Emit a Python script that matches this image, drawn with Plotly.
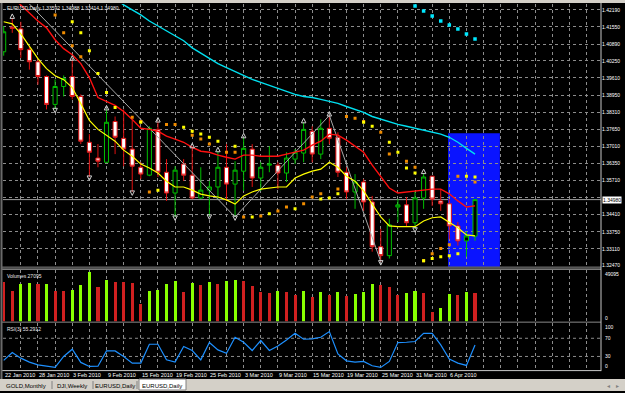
import plotly.graph_objects as go

W, H = 625, 393
def PX(x): return x / W
def PY(y): return 1 - y / H

FONT = "Liberation Sans"

# ---------------- data ----------------
bars = list(range(56))
date_tick_bars = [0, 4, 8, 12, 16, 20, 24, 28, 32, 36, 40, 44, 48, 52]
date_tick_text = ["22 Jan 2010", "28 Jan 2010", "3 Feb 2010", "9 Feb 2010", "15 Feb 2010",
                  "19 Feb 2010", "25 Feb 2010", "3 Mar 2010", "9 Mar 2010", "15 Mar 2010",
                  "19 Mar 2010", "25 Mar 2010", "31 Mar 2010", "6 Apr 2010"]
price_ticks = [1.42190, 1.41550, 1.40890, 1.40250, 1.39610, 1.38950, 1.38310, 1.37650,
               1.37010, 1.36350, 1.35710, 1.35050, 1.34410, 1.33750, 1.33110, 1.32470]
price_tick_text = ["1.42190", "1.41550", "1.40890", "1.40250", "1.39610", "1.38950", "1.38310",
                   "1.37650", "1.37010", "1.36350", "1.35710", "", "1.34410", "1.33750",
                   "1.33110", "1.32470"]
rsi_levels = [100, 70, 30, 0]

open_ = [1.4060, 1.4153, 1.4147, 1.4068, 1.4022, 1.3966, 1.3860, 1.3928, 1.3966, 1.3890,
         1.3716, 1.3656, 1.3640, 1.3795, 1.3731, 1.3690, 1.3621, 1.3591, 1.3765, 1.3602,
         1.3523, 1.3633, 1.3591, 1.3504, 1.3534, 1.3546, 1.3621, 1.3557, 1.3606, 1.3690,
         1.3580, 1.3629, 1.3629, 1.3599, 1.3652, 1.3675, 1.3758, 1.3671, 1.3769, 1.3735,
         1.3602, 1.3527, 1.3565, 1.3489, 1.3319, 1.3285, 1.3470, 1.3478, 1.3410, 1.3504,
         1.3587, 1.3493, 1.3482, 1.3398, 1.3341, 1.33592]
high = [1.4158, 1.4189, 1.4174, 1.4079, 1.4034, 1.3970, 1.3955, 1.3970, 1.4030, 1.3898,
        1.3747, 1.3709, 1.3841, 1.3814, 1.3841, 1.3803, 1.3640, 1.3777, 1.3795, 1.3652,
        1.3625, 1.3652, 1.3697, 1.3621, 1.3569, 1.3682, 1.3709, 1.3644, 1.3735, 1.3709,
        1.3640, 1.3701, 1.3640, 1.3678, 1.3690, 1.3792, 1.3777, 1.3803, 1.3818, 1.3754,
        1.3621, 1.3595, 1.3576, 1.3512, 1.3387, 1.3425, 1.3500, 1.3508, 1.3531, 1.3599,
        1.3587, 1.3538, 1.3500, 1.3413, 1.3376, 1.34988]
low = [1.4045, 1.4132, 1.4037, 1.3992, 1.3935, 1.3841, 1.3841, 1.3890, 1.3879, 1.3709,
       1.3584, 1.3621, 1.3637, 1.3671, 1.3625, 1.3527, 1.3576, 1.3587, 1.3584, 1.3493,
       1.3432, 1.3569, 1.3500, 1.3500, 1.3436, 1.3500, 1.3493, 1.3432, 1.3531, 1.3546,
       1.3531, 1.3602, 1.3538, 1.3565, 1.3633, 1.3640, 1.3640, 1.3652, 1.3709, 1.3584,
       1.3500, 1.3463, 1.3455, 1.3300, 1.3262, 1.3274, 1.3413, 1.3394, 1.3387, 1.3463,
       1.3474, 1.3455, 1.3347, 1.3323, 1.3281, 1.33414]
close = [1.4136, 1.4149, 1.4068, 1.4022, 1.3966, 1.3860, 1.3928, 1.3958, 1.3890, 1.3720,
         1.3678, 1.3644, 1.3792, 1.3735, 1.3690, 1.3625, 1.3595, 1.3769, 1.3602, 1.3523,
         1.3610, 1.3591, 1.3504, 1.3534, 1.3546, 1.3621, 1.3557, 1.3610, 1.3693, 1.3580,
         1.3621, 1.3633, 1.3599, 1.3656, 1.3678, 1.3765, 1.3671, 1.3769, 1.3731, 1.3602,
         1.3527, 1.3565, 1.3489, 1.3319, 1.3285, 1.3402, 1.3478, 1.3410, 1.3504, 1.3584,
         1.3500, 1.3482, 1.3398, 1.3341, 1.3360, 1.34980]

ma_fast = [1.4174, 1.4166, 1.4128, 1.4083, 1.4034, 1.3996, 1.3969, 1.3954, 1.3924, 1.3863,
           1.3799, 1.3765, 1.3742, 1.3720, 1.3686, 1.3663, 1.3633, 1.3618, 1.3599, 1.3568,
           1.3546, 1.3546, 1.3534, 1.3519, 1.3512, 1.3508, 1.3497, 1.3481, 1.3512, 1.3527,
           1.3538, 1.3542, 1.3546, 1.3546, 1.3580, 1.3595, 1.3606, 1.3614, 1.3640, 1.3621,
           1.3587, 1.3568, 1.3531, 1.3481, 1.3432, 1.3398, 1.3395, 1.3395, 1.3395, 1.3417,
           1.3429, 1.3432, 1.3413, 1.3391, 1.3364, 1.3360]
ma_mid = [1.4295, 1.4264, 1.4238, 1.4208, 1.4177, 1.4151, 1.4106, 1.4072, 1.4049, 1.4015,
          1.3962, 1.3886, 1.3871, 1.3856, 1.3833, 1.3803, 1.3769, 1.3765, 1.3758, 1.3739,
          1.3728, 1.3716, 1.3697, 1.3682, 1.3678, 1.3667, 1.3659, 1.3652, 1.3667, 1.3667,
          1.3663, 1.3663, 1.3663, 1.3671, 1.3678, 1.3686, 1.3705, 1.3720, 1.3747, 1.3743,
          1.3724, 1.3701, 1.3678, 1.3629, 1.3584, 1.3542, 1.3523, 1.3527, 1.3531, 1.3534,
          1.3538, 1.3538, 1.3520, 1.3493, 1.3470, 1.3474]
ma_slow_start = 12
ma_slow = [1.4283, 1.4264, 1.4238, 1.4219, 1.4200, 1.4177, 1.4158, 1.4139, 1.4121, 1.4102,
           1.4075, 1.4056, 1.4034, 1.4015, 1.4000, 1.3985, 1.3970, 1.3955, 1.3944, 1.3932,
           1.3921, 1.3910, 1.3898, 1.3890, 1.3886, 1.3879, 1.3871, 1.3864, 1.3852, 1.3841,
           1.3830, 1.3814, 1.3803, 1.3792, 1.3784, 1.3777, 1.3769, 1.3762, 1.3754, 1.3747,
           1.3735, 1.3716, 1.3693, 1.3671]

zigzag_bars = [-7, 27, 38, 44]
zigzag_vals = [1.4579, 1.3432, 1.3818, 1.3262]

sar_yellow_bars = [8, 9, 10, 11, 12, 13, 16, 18, 21, 22, 23, 24, 25, 27, 29, 31, 34, 37, 38, 39,
                   42, 43, 45, 46, 47, 48, 49, 50, 51, 52, 53, 54, 55]
sar_yellow_vals = [1.4174, 1.4132, 1.4064, 1.3977, 1.3905, 1.3848, 1.3792, 1.3534, 1.3773, 1.3758,
                   1.3747, 1.3735, 1.3720, 1.3701, 1.3432, 1.3444, 1.3463, 1.3500, 1.3504, 1.3520,
                   1.3792, 1.3777, 1.3716, 1.3678, 1.3618, 1.3599, 1.3266, 1.3274, 1.3281, 1.3285,
                   1.3292, 1.3587, 1.3584]
sar_orange_bars = [6, 7, 8, 9, 15, 16, 17, 19, 20, 22, 23, 24, 26, 27, 28, 30, 32, 33, 35, 36,
                   37, 39, 40, 41, 42, 44, 45, 47, 48, 49, 50, 51, 52, 53, 55]
sar_orange_vals = [1.4200, 1.4132, 1.4083, 1.4041, 1.3811, 1.3795, 1.3527, 1.3784, 1.3784, 1.3743,
                   1.3728, 1.3709, 1.3678, 1.3678, 1.3432, 1.3436, 1.3455, 1.3470, 1.3482, 1.3508,
                   1.3520, 1.3538, 1.3814, 1.3807, 1.3795, 1.3754, 1.3671, 1.3644, 1.3621, 1.3266,
                   1.3292, 1.3312, 1.3326, 1.3587, 1.3565]

fractal_up_bars = [1, 8, 12, 18, 22, 25, 28, 35, 38, 49]
fractal_down_bars = [6, 10, 15, 20, 24, 27, 44, 48]

cyan_dot_bars = [48, 49, 50, 51, 52, 53, 54, 55]
cyan_dot_vals = [1.4234, 1.4215, 1.4196, 1.4177, 1.4162, 1.4147, 1.4128, 1.4109]

zone_x0, zone_x1 = 51.85, 57.9
zone_top, zone_bottom = 1.3750, 1.3200

volume = [37760, 29270, 35870, 36820, 35870, 36000, 29270, 29100, 30210, 34930,
          47200, 33040, 39650, 37760, 37500, 36820, 16990, 29270, 30210, 35870,
          38700, 28320, 36820, 34930, 37760, 35870, 38700, 39650, 38700, 33980,
          28320, 27380, 29270, 28320, 25490, 29270, 23600, 28320, 25490, 28320,
          24540, 26430, 28320, 35870, 34930, 33040, 25490, 27380, 29270, 27380,
          9440, 13220, 26430, 25490, 28320, 27095]
volume_max = 49095
first_volume_up = False

rsi = [21.3, 38.7, 26.3, 17.5, 11.6, 8.1, 6.0, 30.0, 46.0, 16.9,
       8.1, 8.5, 42.2, 42.2, 30.0, 15.4, 15.4, 56.9, 56.9, 22.6,
       17.5, 51.9, 43.1, 22.6, 60.6, 44.4, 37.2, 72.2, 61.3, 43.1,
       65.0, 43.1, 53.2, 66.3, 80.9, 67.8, 68.5, 72.2, 84.7, 35.7,
       20.4, 17.5, 19.1, 9.5, 6.0, 19.1, 60.6, 61.3, 62.8, 80.9,
       80.9, 55.4, 24.1, 15.4, 10.3, 55.2912]

tabs = ["GOLD,Monthly", "DJI,Weekly", "EURUSD,Daily", "EURUSD,Daily"]

# ---------------- figure ----------------
fig = go.Figure()

fig.add_trace(go.Scatter(x=list(range(ma_slow_start, ma_slow_start + len(ma_slow))), y=ma_slow,
                         mode="lines", line=dict(color="#00e0f0", width=1.4),
                         xaxis="x", yaxis="y", hoverinfo="skip", showlegend=False))
fig.add_trace(go.Scatter(x=zigzag_bars, y=zigzag_vals, mode="lines",
                         line=dict(color="#a8a8a8", width=1),
                         xaxis="x", yaxis="y", hoverinfo="skip", showlegend=False))
fig.add_trace(go.Candlestick(x=bars, open=open_, high=high, low=low, close=close,
                             increasing=dict(line=dict(color="#00c000", width=1), fillcolor="#000000"),
                             decreasing=dict(line=dict(color="#e01010", width=1), fillcolor="#ffffff"),
                             whiskerwidth=0, xaxis="x", yaxis="y", hoverinfo="skip", showlegend=False))
fig.add_trace(go.Scatter(x=bars, y=ma_mid, mode="lines", line=dict(color="#ff1010", width=1.4),
                         xaxis="x", yaxis="y", hoverinfo="skip", showlegend=False))
fig.add_trace(go.Scatter(x=bars, y=ma_fast, mode="lines", line=dict(color="#ffff00", width=1.2),
                         xaxis="x", yaxis="y", hoverinfo="skip", showlegend=False))
fig.add_trace(go.Scatter(x=sar_orange_bars, y=sar_orange_vals, mode="markers",
                         marker=dict(symbol="square", size=3, color="#f08c00"),
                         xaxis="x", yaxis="y", hoverinfo="skip", showlegend=False))
fig.add_trace(go.Scatter(x=sar_yellow_bars, y=sar_yellow_vals, mode="markers",
                         marker=dict(symbol="square", size=3, color="#ffff00"),
                         xaxis="x", yaxis="y", hoverinfo="skip", showlegend=False))
fig.add_trace(go.Scatter(x=cyan_dot_bars, y=cyan_dot_vals, mode="markers",
                         marker=dict(symbol="square", size=3.5, color="#00e8ff"),
                         xaxis="x", yaxis="y", hoverinfo="skip", showlegend=False))
fig.add_trace(go.Scatter(x=fractal_up_bars, y=[high[k] + 0.0015 for k in fractal_up_bars],
                         mode="markers", marker=dict(symbol="arrow-up-open", size=4.5,
                                                     color="#d0d0d0", line=dict(width=1, color="#d8d8d8")),
                         xaxis="x", yaxis="y", hoverinfo="skip", showlegend=False))
fig.add_trace(go.Scatter(x=fractal_down_bars, y=[low[k] - 0.0013 for k in fractal_down_bars],
                         mode="markers", marker=dict(symbol="arrow-down-open", size=4.5,
                                                     color="#d0d0d0", line=dict(width=1, color="#d8d8d8")),
                         xaxis="x", yaxis="y", hoverinfo="skip", showlegend=False))

vol_colors = []
for i, v in enumerate(volume):
    up = first_volume_up if i == 0 else v > volume[i - 1]
    vol_colors.append("#88ff00" if up else "#d02020")
fig.add_trace(go.Bar(x=bars, y=volume, width=0.36, marker=dict(color=vol_colors, line=dict(width=0)),
                     xaxis="x2", yaxis="y2", hoverinfo="skip", showlegend=False))

fig.add_trace(go.Scatter(x=bars, y=rsi, mode="lines", line=dict(color="#1e90ff", width=1.2),
                         xaxis="x3", yaxis="y3", hoverinfo="skip", showlegend=False))

grid = dict(showgrid=True, gridcolor="#8c8c8c", griddash="dot", gridwidth=1)
xcommon = dict(domain=[PX(3), PX(601)], range=[-0.08, 69.7], tickmode="array",
               tickvals=list(range(0, 70, 2)), showticklabels=False, ticks="",
               zeroline=False, showline=False, **grid)
fig.update_layout(
    width=W, height=H, margin=dict(l=0, r=0, t=0, b=0), autosize=False,
    paper_bgcolor="#000000", plot_bgcolor="#000000",
    font=dict(family=FONT, color="#ffffff", size=5),
    boxgap=0.32, bargap=0,
    xaxis=dict(anchor="y", rangeslider=dict(visible=False), **xcommon),
    xaxis2=dict(anchor="y2", matches="x", **xcommon),
    xaxis3=dict(anchor="y3", matches="x", **xcommon),
    yaxis=dict(domain=[PY(268), PY(4)], range=[1.32432, 1.42417], side="right", anchor="x",
               tickmode="array", tickvals=price_ticks, ticktext=price_tick_text,
               tickfont=dict(size=5, color="#ffffff", family=FONT), ticks="",
               zeroline=False, showline=False, **grid),
    yaxis2=dict(domain=[PY(323), PY(271)], range=[0, volume_max], side="right", anchor="x2",
                showticklabels=False, ticks="", showgrid=False, zeroline=False, showline=False),
    yaxis3=dict(domain=[PY(372), PY(325)], range=[0, 102.8], side="right", anchor="x3",
                showticklabels=False, ticks="", showgrid=False, zeroline=False, showline=False),
)

shapes = []
shapes.append(dict(type="rect", xref="x", yref="y", x0=zone_x0, x1=zone_x1, y0=zone_bottom, y1=zone_top,
                   fillcolor="#0a14ff", line=dict(width=0), layer="below"))
shapes.append(dict(type="line", xref="x domain", yref="y", x0=0, x1=1, y0=close[-1], y1=close[-1],
                   line=dict(color="#a0a0a0", width=1), layer="below"))
for lvl in (30, 70):
    shapes.append(dict(type="line", xref="x3 domain", yref="y3", x0=0, x1=1, y0=lvl, y1=lvl,
                       line=dict(color="#8c8c8c", width=1, dash="dot"), layer="below"))
gray = "#8a8a8a"
def hline(y, x0=0, x1=601, c=gray, w=1):
    shapes.append(dict(type="line", xref="paper", yref="paper", x0=PX(x0), x1=PX(x1),
                       y0=PY(y), y1=PY(y), line=dict(color=c, width=w), layer="above"))
def vline(x, y0, y1, c=gray, w=1):
    shapes.append(dict(type="line", xref="paper", yref="paper", x0=PX(x), x1=PX(x),
                       y0=PY(y0), y1=PY(y1), line=dict(color=c, width=w), layer="above"))
hline(268.5, 2, 601)
hline(270.5, 2, 601, c="#c8c8c8")
hline(323.8, 2, 601)
hline(372.5, 2, 601, c="#c8c8c8")
vline(601, 3, 373, c="#c8c8c8")
vline(1.5, 3, 381, c="#6a6a6a", w=2)
shapes.append(dict(type="rect", xref="paper", yref="paper", x0=0, x1=1, y0=PY(3), y1=1,
                   fillcolor="#d4d0c8", line=dict(width=0), layer="above"))
shapes.append(dict(type="rect", xref="paper", yref="paper", x0=0, x1=1, y0=0, y1=PY(381),
                   fillcolor="#d4d0c8", line=dict(width=0), layer="above"))
shapes.append(dict(type="rect", xref="paper", yref="paper", x0=PX(139), x1=PX(186), y0=PY(392), y1=PY(381),
                   fillcolor="#ffffff", line=dict(color="#808080", width=1), layer="above"))
for sx in (52, 93, 137):
    vline(sx, 383, 391, c="#808080")
fig.update_layout(shapes=shapes)

ann = []
def label(x, y, text, size=5, color="#ffffff", anchor="left", **kw):
    ann.append(dict(x=PX(x), y=PY(y), xref="paper", yref="paper", xanchor=anchor, yanchor="middle",
                    text=text, showarrow=False, font=dict(size=size, color=color, family=FONT), **kw))

label(5, 8, f"EURUSD,Daily {open_[-1]:.5f} {high[-1]:.5f} {low[-1]:.5f} {close[-1]:.5f}", color="#e8e8e8")
label(5, 277, f"Volumes {volume[-1]}", color="#e8e8e8")
label(5, 331, f"RSI(3) {rsi[-1]:.4f}", color="#e8e8e8")
# volume scale labels (MT4 places them just inside the panel)
label(603, 275, str(volume_max))
label(603, 320, "0")
# RSI scale labels
for lvl, yy in zip(rsi_levels, (328.5, 339.5, 357.5, 368)):
    label(603, yy, str(lvl))
for b, t in zip(date_tick_bars, date_tick_text):
    ann.append(dict(x=b, y=PY(377), xref="x3", yref="paper", xanchor="left", yanchor="middle",
                    text=t, showarrow=False, xshift=-1,
                    font=dict(size=5.5, color="#ffffff", family=FONT)))
ann.append(dict(x=PX(602), y=close[-1], xref="paper", yref="y", xanchor="left", yanchor="middle",
                text=f"{close[-1]:.5f}", showarrow=False, bgcolor="#ffffff", borderpad=0,
                font=dict(size=5, color="#000000", family=FONT)))
for cx, t in zip((26, 72, 115, 162), tabs):
    label(cx, 387.5, t, size=6, color="#000000", anchor="center")
for cx, t in ((608, "◂"), (617, "▸")):
    ann.append(dict(x=PX(cx), y=PY(387.5), xref="paper", yref="paper", xanchor="center",
                    yanchor="middle", text=t, showarrow=False,
                    font=dict(size=6, color="#808080", family="DejaVu Sans")))
fig.update_layout(annotations=ann)

fig.write_html("out.html")
